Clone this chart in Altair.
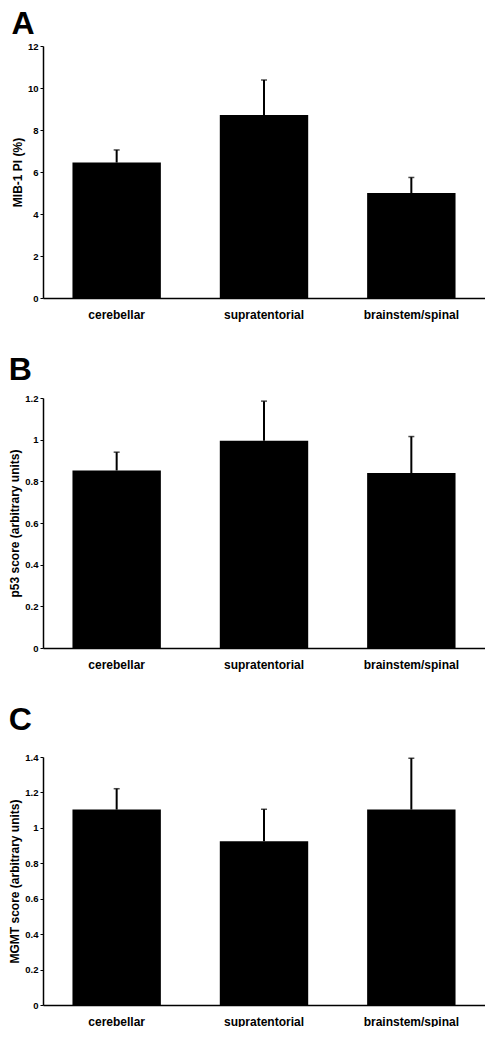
import altair as alt
import pandas as pd

categories = ["cerebellar", "supratentorial", "brainstem/spinal"]

mib_values = [6.45, 8.72, 5.0]
mib_upper = [7.05, 10.38, 5.74]

p53_values = [0.852, 0.995, 0.84]
p53_upper = [0.94, 1.185, 1.015]

mgmt_values = [1.103, 0.925, 1.103]
mgmt_upper = [1.221, 1.105, 1.393]

FONT = "Liberation Sans"


def panel(letter, values, upper, ytitle, ymax, ticks, height, title_offset):
    df = pd.DataFrame({"cat": categories, "val": values, "up": upper})
    xaxis = alt.Axis(
        ticks=False,
        labelAngle=0,
        labelPadding=11,
        labelFontSize=12,
        labelFontWeight="bold",
        labelFont=FONT,
        labelColor="black",
        domainColor="black",
        domainWidth=1.5,
    )
    yaxis = alt.Axis(
        values=ticks,
        format="~g",
        grid=False,
        labelOverlap=False,
        tickSize=3,
        tickColor="black",
        domainColor="black",
        domainWidth=1.5,
        labelPadding=2,
        labelFontSize=9.5,
        labelFontWeight="bold",
        labelFont=FONT,
        labelColor="black",
        titleFontSize=12,
        titleFontWeight="bold",
        titleFont=FONT,
        titleColor="black",
        titlePadding=3,
    )
    xscale = alt.Scale(paddingInner=0.4, paddingOuter=0.2)
    yscale = alt.Scale(domain=[0, ymax], nice=False, zero=True)
    x = alt.X("cat:N", sort=categories, title=None, scale=xscale, axis=xaxis)
    base = alt.Chart(df)
    bars = base.mark_bar(color="black").encode(
        x=x, y=alt.Y("val:Q", title=ytitle, scale=yscale, axis=yaxis)
    )
    rule = base.mark_rule(color="black", strokeWidth=2).encode(
        x=x,
        y=alt.Y("val:Q", title=ytitle, scale=yscale, axis=yaxis),
        y2="up:Q",
    )
    cap = base.mark_tick(color="black", thickness=1.5, size=6).encode(
        x=x,
        y=alt.Y("up:Q", title=ytitle, scale=yscale, axis=yaxis),
    )
    return alt.layer(bars, rule, cap).properties(
        width=442,
        height=height,
        view=alt.ViewBackground(stroke="transparent", strokeWidth=0),
        title=alt.TitleParams(
            letter,
            anchor="start",
            frame="bounds",
            fontSize=32,
            fontWeight="bold",
            font=FONT,
            color="black",
            offset=title_offset,
        ),
    )


a = panel("A", mib_values, mib_upper, "MIB-1 PI (%)", 12, [0, 2, 4, 6, 8, 10, 12], 252, 0)
b = panel("B", p53_values, p53_upper, "p53 score (arbitrary units)", 1.2,
          [0, 0.2, 0.4, 0.6, 0.8, 1.0, 1.2], 250, 6)
c = panel("C", mgmt_values, mgmt_upper, "MGMT score (arbitrary units)", 1.4,
          [0, 0.2, 0.4, 0.6, 0.8, 1.0, 1.2, 1.4], 248, 15)

chart = (
    alt.vconcat(a, b, c, spacing=34)
    .properties(padding=0)
    .configure_view(stroke="transparent", strokeWidth=0)
    .configure(background="white")
)

chart.save("out.html", embed_options={"renderer": "svg", "actions": False})
